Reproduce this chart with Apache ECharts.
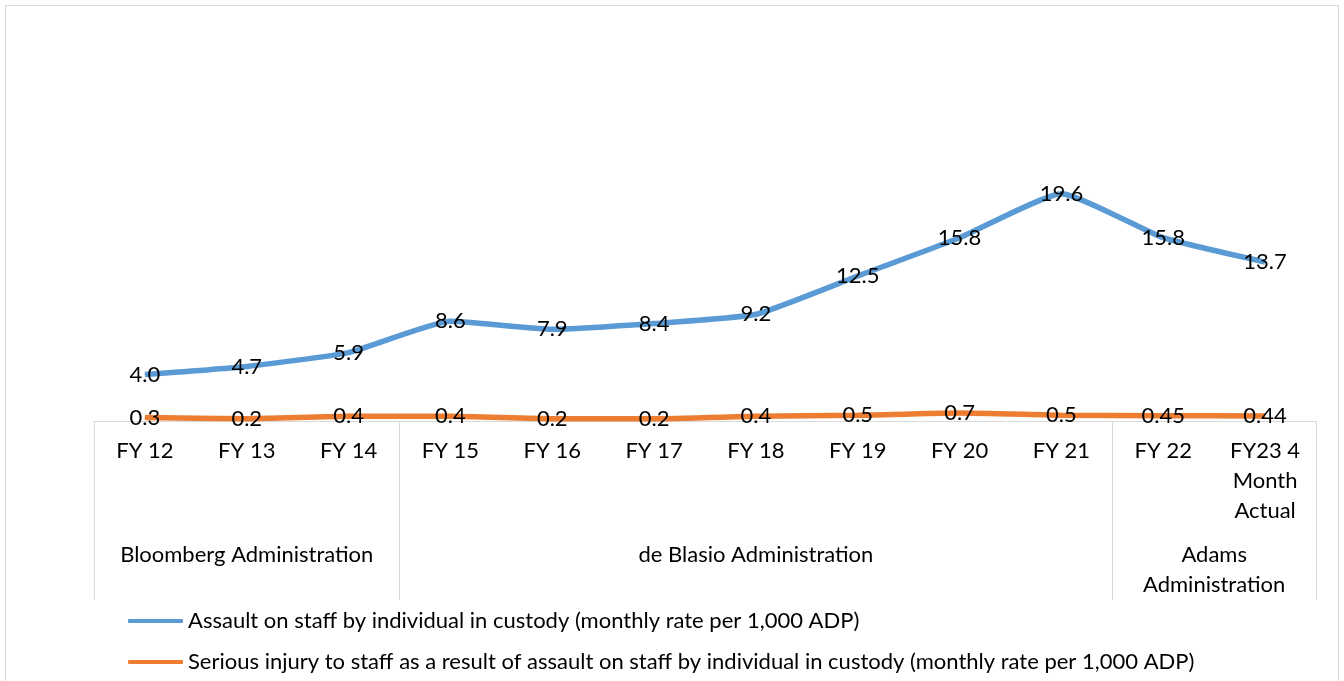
<!DOCTYPE html>
<html>
<head>
<meta charset="utf-8">
<script src="https://cdn.jsdelivr.net/npm/echarts@6/dist/echarts.min.js"></script>
<style>
  html, body { margin: 0; padding: 0; background: #fff; }
  #frame { position: absolute; left: 5px; top: 5px; width: 1332px; height: 700px; border: 1px solid #d9d9d9; }
  #chart { position: absolute; left: 0; top: 0; width: 1344px; height: 681px; }
</style>
</head>
<body>
<div id="frame"></div>
<div id="chart"></div>
<script>
// categories and series values
const categories = ['FY 12', 'FY 13', 'FY 14', 'FY 15', 'FY 16', 'FY 17', 'FY 18', 'FY 19', 'FY 20', 'FY 21', 'FY 22', 'FY23 4\nMonth\nActual'];
const assaultRate = [4.0, 4.7, 5.9, 8.6, 7.9, 8.4, 9.2, 12.5, 15.8, 19.6, 15.8, 13.7];
const injuryRate = [0.3, 0.2, 0.4, 0.4, 0.2, 0.2, 0.4, 0.5, 0.7, 0.5, 0.45, 0.44];
const groupNames = ['Bloomberg Administration', 'de Blasio Administration', 'Adams\nAdministration'];
const groupSpans = [3, 7, 2];
const seriesNames = [
  'Assault on staff by individual in custody (monthly rate per 1,000 ADP)',
  'Serious injury to staff as a result of assault on staff by individual in custody (monthly rate per 1,000 ADP)'
];

// group boundaries and centres in category units
const bounds = [0];
groupSpans.forEach(s => bounds.push(bounds[bounds.length - 1] + s));
const centres = groupSpans.map((s, i) => bounds[i] + s / 2);

const FONT = 'Lato';
const FS = 22;
const TXT = '#000';
const GRIDLINE = '#d9d9d9';

const fmt = v => Number.isInteger(Math.round(v * 100) / 10) ? v.toFixed(1) : String(v);

const chart = echarts.init(document.getElementById('chart'));

const lineSeries = (name, data, color) => ({
  name,
  type: 'line',
  data,
  smooth: 0.15,
  symbol: 'circle',
  symbolSize: 1,
  itemStyle: { color },
  lineStyle: { color, width: 5.5 },
  label: {
    show: true,
    position: 'inside',
    color: TXT,
    fontFamily: FONT,
    fontSize: FS,
    formatter: p => fmt(p.value)
  },
  emphasis: { disabled: true },
  animation: false
});

chart.setOption({
  backgroundColor: 'transparent',
  textStyle: { fontFamily: FONT },
  grid: { left: 94, right: 28, top: 131, bottom: 260, containLabel: false },
  legend: {
    orient: 'vertical',
    left: 128,
    top: 610,
    padding: 0,
    icon: 'roundRect',
    itemWidth: 55,
    itemHeight: 4,
    itemGap: 19,
    textStyle: { color: TXT, fontFamily: FONT, fontSize: FS },
    data: seriesNames
  },
  xAxis: [
    {
      type: 'category',
      data: categories,
      boundaryGap: true,
      axisLine: { show: true, lineStyle: { color: GRIDLINE, width: 1 } },
      axisTick: { show: false },
      axisLabel: {
        interval: 0,
        margin: 15,
        color: TXT,
        fontFamily: FONT,
        fontSize: FS,
        lineHeight: 30
      }
    },
    {
      type: 'value',
      position: 'bottom',
      min: 0,
      max: bounds[bounds.length - 1],
      axisLine: { show: false },
      splitLine: { show: false },
      axisTick: {
        show: true,
        customValues: bounds,
        length: 179,
        lineStyle: { color: GRIDLINE, width: 1 }
      },
      axisLabel: {
        show: true,
        customValues: centres,
        margin: 119,
        color: TXT,
        fontFamily: FONT,
        fontSize: FS,
        lineHeight: 30,
        verticalAlign: 'top',
        formatter: v => groupNames[centres.indexOf(v)] || ''
      }
    }
  ],
  yAxis: {
    type: 'value',
    min: 0,
    max: 25,
    show: false
  },
  series: [
    lineSeries(seriesNames[0], assaultRate, '#5b9bd5'),
    lineSeries(seriesNames[1], injuryRate, '#ed7d31')
  ]
});

window.addEventListener('resize', () => chart.resize());
</script>
</body>
</html>
